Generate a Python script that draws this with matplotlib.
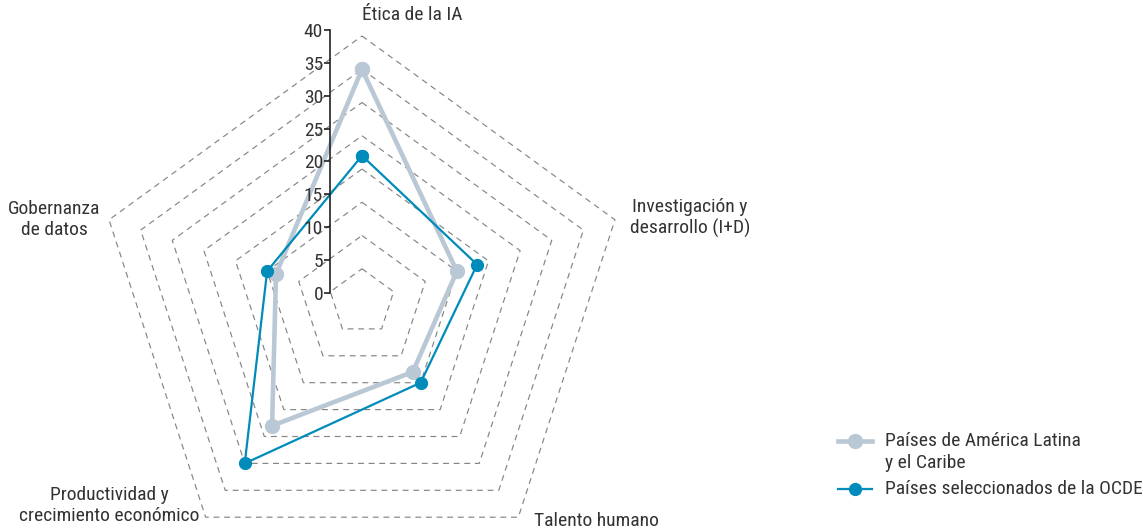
import numpy as np
import matplotlib
matplotlib.use("Agg")
import matplotlib.pyplot as plt
from matplotlib.lines import Line2D

plt.rcParams['font.family'] = ['Roboto Condensed', 'DejaVu Sans']

categories = ["Ética de la IA", "Investigación y\ndesarrollo (I+D)", "Talento humano",
              "Productividad y\ncrecimiento económico", "Gobernanza\nde datos"]
lac = [35, 15, 13, 23, 13.6]
ocde = [22, 18.2, 15, 30, 15]
series_names = ["Países de América Latina\ny el Caribe", "Países seleccionados de la OCDE"]
ring_values = [5, 10, 15, 20, 25, 30, 35, 40]
scale_ticks = [0, 5, 10, 15, 20, 25, 30, 35, 40]

LAC_COLOR = "#b9c8d4"
OCDE_COLOR = "#008cba"
GRID_COLOR = "#858585"
TEXT_COLOR = "#333333"
FS = 14

W, H = 1143, 531
fig = plt.figure(figsize=(W / 100, H / 100), dpi=100)

# centre of the web in pixels and radius of the outer ring
cx, cy, R = 362, 302, 266
ax = fig.add_axes([(cx - R) / W, (H - cy - R) / H, 2 * R / W, 2 * R / H])
ax.set_xlim(-40, 40)
ax.set_ylim(-40, 40)
ax.set_aspect('equal')
ax.axis('off')

n = len(categories)
theta = np.arange(n) * 2 * np.pi / n


def to_xy(values):
    r = np.asarray(values, dtype=float)
    x = r * np.sin(theta)
    y = r * np.cos(theta)
    return np.append(x, x[0]), np.append(y, y[0])


for v in ring_values:
    x, y = to_xy([v] * n)
    ax.plot(x, y, color=GRID_COLOR, lw=0.85, dashes=(5, 4), clip_on=False, zorder=1)

x, y = to_xy(lac)
ax.plot(x, y, color=LAC_COLOR, lw=3.3, marker='o', ms=10, clip_on=False, zorder=3)
x, y = to_xy(ocde)
ax.plot(x, y, color=OCDE_COLOR, lw=1.6, marker='o', ms=8.5, clip_on=False, zorder=4)

# category labels (data units around the web)
label_pos = [(7.6, 43.2), (49.3, 12.6), (35.3, -32.9), (-38.0, -30.6), (-46.3, 12.4)]
for (lx, ly), lab in zip(label_pos, categories):
    ax.text(lx, ly, lab, ha='center', va='center', fontsize=FS,
            color=TEXT_COLOR, linespacing=1.15, clip_on=False)

# value scale drawn as a separate vertical axis
sax = fig.add_axes([330 / W, (H - 293) / H, 0.0001, (293 - 30) / H])
sax.set_ylim(0, 40)
sax.set_yticks(scale_ticks)
sax.set_xticks([])
for s in ['top', 'right', 'bottom']:
    sax.spines[s].set_visible(False)
sax.spines['left'].set_linewidth(1.2)
sax.spines['left'].set_color('#222222')
sax.tick_params(axis='y', direction='out', length=4, width=1.2, pad=1,
                labelsize=FS, labelcolor=TEXT_COLOR, color='#222222')
sax.patch.set_visible(False)

# legend
leg_y = [441, 489]
styles = [dict(color=LAC_COLOR, lw=3.3, ms=10), dict(color=OCDE_COLOR, lw=1.6, ms=8.5)]
for yy, st, name in zip(leg_y, styles, series_names):
    fy = (H - yy) / H
    fig.add_artist(Line2D([838 / W, 872 / W], [fy, fy], color=st['color'], lw=st['lw']))
    fig.add_artist(Line2D([855 / W], [fy], color=st['color'], marker='o', ms=st['ms'], lw=0))
    fig.text(885 / W, fy + 9 / H, name, ha='left', va='top', fontsize=FS,
             color=TEXT_COLOR, linespacing=1.3)

fig.savefig("out.png", dpi=100)
